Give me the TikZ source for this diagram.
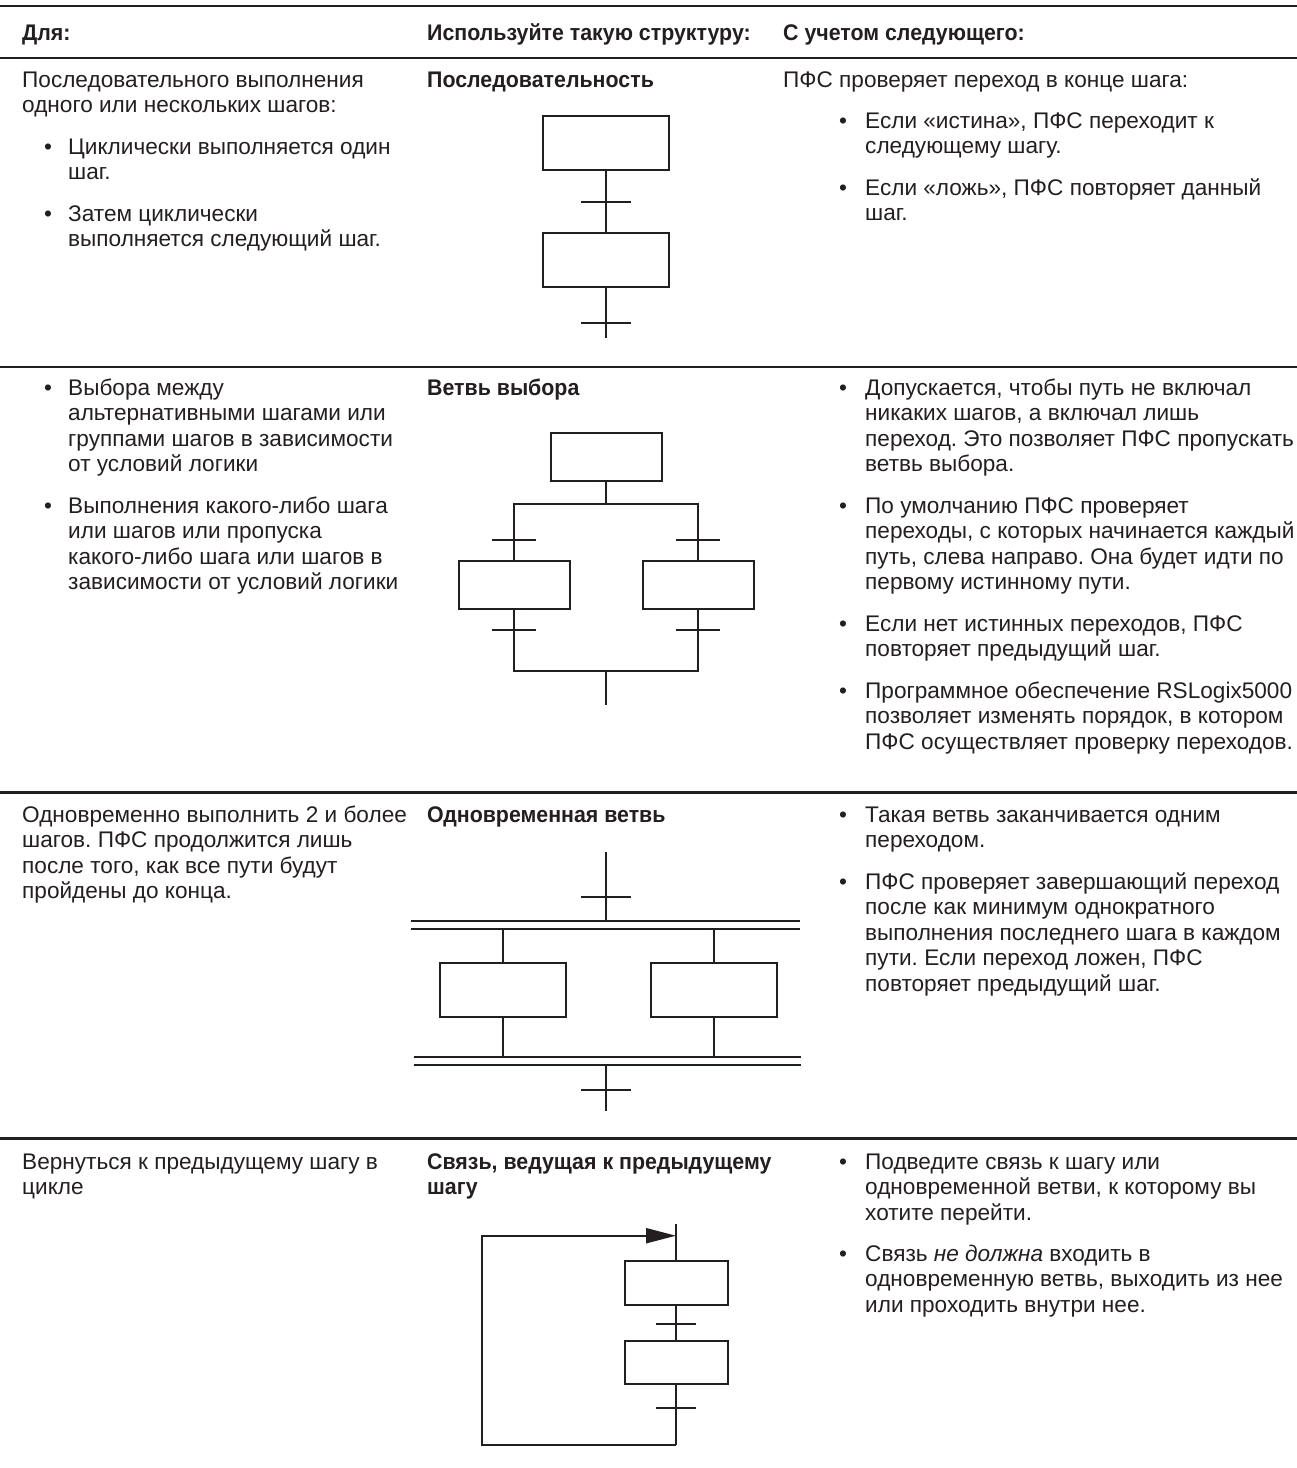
\documentclass[tikz,border=0pt]{standalone}
\usepackage{fontspec}
\setmainfont{Liberation Sans}[BoldFeatures={FakeStretch=0.945}]
\usetikzlibrary{arrows.meta}
\definecolor{ink}{RGB}{35,31,32}
\frenchspacing

\tikzset{
  txt/.style={inner sep=0pt, anchor=base west, text=ink,
              font=\fontsize{22.6}{25.5}\selectfont},
  hdr/.style={txt, font=\fontsize{22.6}{25.5}\selectfont\bfseries},
  rule/.style={draw=ink, line width=2.8pt},
  wire/.style={draw=ink, line width=2pt},
  stepbox/.style={draw=ink, line width=2pt, rectangle, inner sep=0pt,
                  minimum width=#1},
  stepbox/.default=126pt,
}

% one node per printed line: name, x, first baseline, {line},{line},...
\newcommand\textlines[4]{%
  \foreach \ln [count=\k] in {#4}{%
    \node[txt] (#1-\k) at (#2,{#3+(\k-1)*25.5}) {\ln};
  }%
}
% same, in bold
\newcommand\boldlines[4]{%
  \foreach \ln [count=\k] in {#4}{%
    \node[hdr] (#1-\k) at (#2,{#3+(\k-1)*25.5}) {\ln};
  }%
}
% bullet glyph
\newcommand\bulletmark[3]{\node[txt] (#1) at (#2,#3) {•};}
% transition bar across a vertical link: name, x, y, half length
\newcommand\transition[4]{%
  \coordinate (#1) at (#2,#3);
  \draw[wire] ([xshift=-#4pt]#1) -- ([xshift=#4pt]#1);
}

\begin{document}
\begin{tikzpicture}[x=1pt,y=-1pt]
\fill[white] (0,0) rectangle (1297,1468);
\useasboundingbox (0,0) rectangle (1297,1468);

% ---------- table rules ----------
\draw[rule] (0,6) -- (1297,6);
\draw[rule] (0,58) -- (1297,58);
\draw[rule] (0,367) -- (1297,367);
\draw[rule] (0,792.7) -- (1297,792.7);
\draw[rule] (0,1138.3) -- (1297,1138.3);

% ---------- header ----------
\node[hdr] (h1) at (22,40) {Для:};
\node[hdr] (h2) at (427,40) {Используйте такую структуру:};
\node[hdr] (h3) at (783,40) {С учетом следующего:};

% ---------- row 1: sequence ----------
\textlines{r1a}{22}{87}{{Последовательного выполнения},{одного или нескольких шагов:}}
\bulletmark{r1b0}{44}{154}
\textlines{r1b}{68}{154}{{Циклически выполняется один},{шаг.}}
\bulletmark{r1c0}{44}{221}
\textlines{r1c}{68}{221}{{Затем циклически},{выполняется следующий шаг.}}

\boldlines{r1m}{427}{87}{{Последовательность}}

\textlines{r1d}{783}{87}{{ПФС проверяет переход в конце шага:}}
\bulletmark{r1e0}{839}{128}
\textlines{r1e}{865}{128}{{Если «истина», ПФС переходит к},{следующему шагу.}}
\bulletmark{r1f0}{839}{195}
\textlines{r1f}{865}{195}{{Если «ложь», ПФС повторяет данный},{шаг.}}

\node[stepbox, minimum height=54pt] (s1) at (606,143) {};
\node[stepbox, minimum height=54pt] (s2) at (606,260) {};
\coordinate (s-end) at (606,338);
\draw[wire] (s1.south) -- (s2.north);
\draw[wire] (s2.south) -- (s-end);
\transition{st1}{606}{201.7}{25}
\transition{st2}{606}{322.7}{25}

% ---------- row 2: selection branch ----------
\bulletmark{r2a0}{44}{395}
\textlines{r2a}{68}{395}{{Выбора между},{альтернативными шагами или},{группами шагов в зависимости},{от условий логики}}
\bulletmark{r2b0}{44}{513}
\textlines{r2b}{68}{513}{{Выполнения какого-либо шага},{или шагов или пропуска},{какого-либо шага или шагов в},{зависимости от условий логики}}

\boldlines{r2m}{427}{395}{{Ветвь выбора}}

\bulletmark{r2c0}{839}{395}
\textlines{r2c}{865}{395}{{Допускается, чтобы путь не включал},{никаких шагов, а включал лишь},{переход. Это позволяет ПФС пропускать},{ветвь выбора.}}
\bulletmark{r2d0}{839}{513}
\textlines{r2d}{865}{513}{{По умолчанию ПФС проверяет},{переходы, с которых начинается каждый},{путь, слева направо. Она будет идти по},{первому истинному пути.}}
\bulletmark{r2e0}{839}{631}
\textlines{r2e}{865}{631}{{Если нет истинных переходов, ПФС},{повторяет предыдущий шаг.}}
\bulletmark{r2f0}{839}{698}
\textlines{r2f}{865}{698}{{Программное обеспечение RSLogix5000},{позволяет изменять порядок, в котором},{ПФС осуществляет проверку переходов.}}

\node[stepbox=111pt, minimum height=48pt] (c0) at (606,457) {};
\node[stepbox=111pt, minimum height=48pt] (cL) at (514,585) {};
\node[stepbox=111pt, minimum height=48pt] (cR) at (698,585) {};
\coordinate (c-top) at (606,503.7);
\coordinate (c-bot) at (606,670.7);
\coordinate (c-end) at (606,705);
\draw[wire] (c0.south) -- (c-top);
\draw[wire] (cL.north) |- (c-top) -| (cR.north);
\draw[wire] (cL.south) |- (c-bot) -| (cR.south);
\draw[wire] (c-bot) -- (c-end);
\transition{ct1}{514}{539.7}{22}
\transition{ct2}{698}{539.7}{22}
\transition{ct3}{514}{630}{22}
\transition{ct4}{698}{630}{22}

% ---------- row 3: simultaneous branch ----------
\textlines{r3a}{22}{822}{{Одновременно выполнить 2 и более},{шагов. ПФС продолжится лишь},{после того, как все пути будут},{пройдены до конца.}}

\boldlines{r3m}{427}{822}{{Одновременная ветвь}}

\bulletmark{r3b0}{839}{822}
\textlines{r3b}{865}{822}{{Такая ветвь заканчивается одним},{переходом.}}
\bulletmark{r3c0}{839}{889}
\textlines{r3c}{865}{889}{{ПФС проверяет завершающий переход},{после как минимум однократного},{выполнения последнего шага в каждом},{пути. Если переход ложен, ПФС},{повторяет предыдущий шаг.}}

\coordinate (p-start) at (606,852);
\coordinate (pb1-l) at (411,921);    \coordinate (pb1-r) at (800,921);
\coordinate (pb2-l) at (411,929);    \coordinate (pb2-r) at (800,929);
\coordinate (pb3-l) at (414,1056.7); \coordinate (pb3-r) at (800.7,1056.7);
\coordinate (pb4-l) at (414,1065);   \coordinate (pb4-r) at (800.7,1065);
\coordinate (p-end) at (606,1110.7);
\draw[wire] (pb1-l) -- (pb1-r);
\draw[wire] (pb2-l) -- (pb2-r);
\draw[wire] (pb3-l) -- (pb3-r);
\draw[wire] (pb4-l) -- (pb4-r);
\draw[wire] (p-start) -- (p-start |- pb1-l);
\draw[wire] (p-end |- pb4-l) -- (p-end);
\transition{pt1}{606}{896.7}{25}
\transition{pt2}{606}{1090}{25}

\node[stepbox, minimum height=54pt] (pL) at (503,990) {};
\node[stepbox, minimum height=54pt] (pR) at (714,990) {};
\draw[wire] (pL.north) -- (pL.north |- pb2-l);
\draw[wire] (pR.north) -- (pR.north |- pb2-l);
\draw[wire] (pL.south) -- (pL.south |- pb3-l);
\draw[wire] (pR.south) -- (pR.south |- pb3-l);

% ---------- row 4: link back to a previous step ----------
\textlines{r4a}{22}{1169}{{Вернуться к предыдущему шагу в},{цикле}}

\boldlines{r4m}{427}{1169}{{Связь, ведущая к предыдущему},{шагу}}

\bulletmark{r4b0}{839}{1169}
\textlines{r4b}{865}{1169}{{Подведите связь к шагу или},{одновременной ветви, к которому вы},{хотите перейти.}}
\bulletmark{r4c0}{839}{1261}
\textlines{r4c}{865}{1261}{{Связь \textit{не должна} входить в},{одновременную ветвь, выходить из нее},{или проходить внутри нее.}}

\node[stepbox=103pt, minimum height=44pt] (lp1) at (676,1283) {};
\node[stepbox=103pt, minimum height=43pt] (lp2) at (676,1362.5) {};
\coordinate (l-top) at (676,1224);
\coordinate (l-in) at (676,1235.7);
\coordinate (l-end) at (676,1445);
\coordinate (l-corner) at (481.7,1445);
\draw[wire] (l-top) -- (lp1.north);
\draw[wire] (lp1.south) -- (lp2.north);
\draw[wire] (lp2.south) -- (l-end);
\draw[wire, -{Triangle[length=30pt,width=15pt]}] (l-end) -- (l-corner) |- (l-in);
\transition{lt1}{676}{1324}{20}
\transition{lt2}{676}{1407.7}{20}
\end{tikzpicture}
\end{document}
